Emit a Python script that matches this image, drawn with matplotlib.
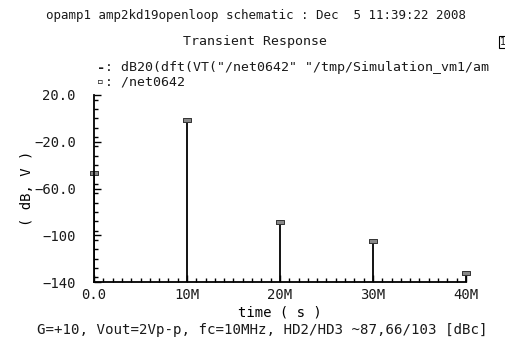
import numpy as np
import matplotlib
matplotlib.use("Agg")
from matplotlib import pyplot as plt
from matplotlib.ticker import MultipleLocator

# spectrum lines
freqs = [0, 10e6, 20e6, 30e6, 40e6]
mags = [-47, -1, -89, -105, -132]

xticks = [0, 10e6, 20e6, 30e6, 40e6]
xlabels = ["0.0", "10M", "20M", "30M", "40M"]
yticks = [20, -20, -60, -100, -140]
ylabels = ["20.0", "\u221220.0", "\u221260.0", "\u2212100", "\u2212140"]

plt.rcParams['font.family'] = ['DejaVu Sans Mono', 'DejaVu Sans']
plt.rcParams['text.color'] = '#1a1a1a'
plt.rcParams['xtick.labelcolor'] = '#1a1a1a'
plt.rcParams['ytick.labelcolor'] = '#1a1a1a'

fig = plt.figure(figsize=(5.05, 3.38), dpi=100)
ax = fig.add_axes([94/505, 56/338, (466-94)/505, (282-95)/338])

ax.vlines(freqs, -140, mags, color='black', lw=1.3)
box = [(-2.5, -1), (2.5, -1), (2.5, 1), (-2.5, 1), (-2.5, -1)]
ax.plot(freqs, mags, ls='none', marker=box, ms=6, mfc='#888888',
        mec='#333333', mew=0.7, clip_on=False)

ax.set_xlim(0, 40e6)
ax.set_ylim(-140, 20)
ax.set_xticks(xticks)
ax.set_xticklabels(xlabels, fontsize=10)
ax.set_yticks(yticks)
ax.set_yticklabels(ylabels, fontsize=10)
ax.xaxis.set_minor_locator(MultipleLocator(1e6))
ax.yaxis.set_minor_locator(MultipleLocator(8))
ax.tick_params(which='major', direction='in', length=5, width=1, pad=4)
ax.tick_params(axis='y', which='major', pad=13)
ax.tick_params(which='minor', direction='in', length=3, width=1)
for s in ['top', 'right']:
    ax.spines[s].set_visible(False)
for s in ['left', 'bottom']:
    ax.spines[s].set_linewidth(1.3)

ax.set_xlabel("time ( s )", fontsize=10, labelpad=3)
ax.set_ylabel("( dB, V )", fontsize=10, labelpad=0)

fig.text(256/505, 1 - 15/338, "opamp1 amp2kd19openloop schematic : Dec  5 11:39:22 2008",
         ha='center', va='center', fontsize=9)
fig.text(255/505, 1 - 42/338, "Transient Response", ha='center', va='center', fontsize=9.5)
fig.text(500/505, 1 - 42/338, "1", ha='left', va='center', fontsize=7,
         bbox=dict(boxstyle='square,pad=0.1', fc='white', ec='black', lw=0.8))
fig.text(97/505, 1 - 68/338, "-", ha='left', va='center', fontsize=10, fontweight='bold')
fig.text(105/505, 1 - 68/338, ': dB20(dft(VT("/net0642" "/tmp/Simulation_vm1/am',
         ha='left', va='center', fontsize=9.5)
fig.text(97/505, 1 - 82/338, "\u25ab", ha='left', va='center', fontsize=8)
fig.text(105/505, 1 - 82/338, ": /net0642", ha='left', va='center', fontsize=9.5)
fig.text(262/505, 1 - 330/338, "G=+10, Vout=2Vp-p, fc=10MHz, HD2/HD3 ~87,66/103 [dBc]",
         ha='center', va='center', fontsize=10.2)

fig.savefig("out.png", dpi=100)
